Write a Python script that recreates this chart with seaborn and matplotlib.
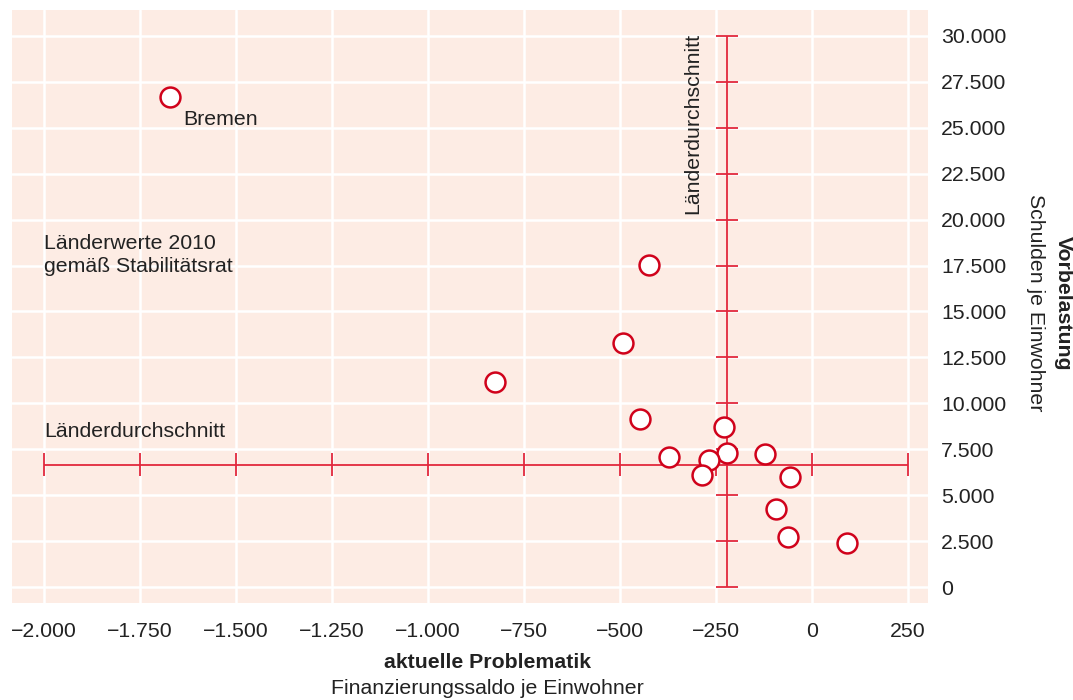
import matplotlib
matplotlib.use("Agg")
import matplotlib.pyplot as plt
import matplotlib.ticker as mticker
import numpy as np
import pandas as pd
import seaborn as sns

# Finanzierungssaldo je Einwohner (x) und Schulden je Einwohner (y), 2010
saldo = [-1672, -424, -492, -826, -448, -229, -372, -221, -122, -268, -286, -57, -94, -62, 91]
schulden = [26680, 17530, 13280, 11160, 9150, 8710, 7080, 7300, 7240, 6910, 6100, 5990, 4250, 2720, 2400]
avg_x = -221
avg_y = 6650
x_ticks = [-2000, -1750, -1500, -1250, -1000, -750, -500, -250, 0, 250]
y_ticks = [0, 2500, 5000, 7500, 10000, 12500, 15000, 17500, 20000, 22500, 25000, 27500, 30000]

bg = "#fdece4"
red = "#d0021b"
line_red = "#e2283c"
txt = "#222222"

sns.set_theme(style="darkgrid", rc={"axes.facecolor": bg, "grid.color": "white",
                                    "grid.linewidth": 1.8})
plt.rcParams["font.family"] = ["Liberation Sans", "DejaVu Sans"]
fs = 15.3

df = pd.DataFrame({"saldo": saldo, "schulden": schulden})

fig = plt.figure(figsize=(10.73, 7.0), dpi=100)
ax = fig.add_axes([12 / 1073, 1 - 603 / 700, (928 - 12) / 1073, (603 - 10) / 700])

# crosshair for Länderdurchschnitt
ax.hlines(avg_y, x_ticks[0], x_ticks[-1], color=line_red, lw=1.3, zorder=2)
ax.vlines(avg_x, y_ticks[0], y_ticks[-1], color=line_red, lw=1.3, zorder=2)
ax.vlines(x_ticks, avg_y - 620, avg_y + 620, color=line_red, lw=1.3, zorder=2)
ax.hlines(y_ticks, avg_x - 29, avg_x + 29, color=line_red, lw=1.3, zorder=2)

sns.scatterplot(data=df, x="saldo", y="schulden", ax=ax, s=205, color="white",
                edgecolor=red, linewidth=1.8, zorder=3, legend=False)

ax.set_xlim(-2083, 302)
ax.set_ylim(-871, 31415)
ax.set_xticks(x_ticks)
ax.set_yticks(y_ticks)


def de_fmt(v, pos):
    s = f"{abs(v):,.0f}".replace(",", ".")
    return ("\u2212" + s) if v < 0 else s


ax.xaxis.set_major_formatter(mticker.FuncFormatter(de_fmt))
ax.yaxis.set_major_formatter(mticker.FuncFormatter(de_fmt))
ax.yaxis.tick_right()
ax.tick_params(axis="x", length=0, pad=13.5, labelsize=fs, labelcolor=txt)
ax.tick_params(axis="y", length=0, pad=9.5, labelsize=fs, labelcolor=txt)
ax.set_xlabel("")
ax.set_ylabel("")
for sp in ax.spines.values():
    sp.set_visible(False)

# annotations
ax.annotate("Bremen", (saldo[0], schulden[0]), xytext=(9.5, -16), textcoords="offset points",
            ha="left", va="center", fontsize=fs, color=txt)
ax.text(-2000, 18080, "Länderwerte 2010\ngemäß Stabilitätsrat", ha="left", va="center",
        fontsize=fs, color=txt, linespacing=1.22)
ax.text(-2000, 8440, "Länderdurchschnitt", ha="left", va="center", fontsize=fs, color=txt)
ax.text(-310, 30150, "Länderdurchschnitt", rotation=90, ha="center", va="top",
        fontsize=fs, color=txt)

# axis titles
fig.text(487 / 1073, 1 - 662 / 700, "aktuelle Problematik", ha="center", va="center",
         fontsize=fs, fontweight="bold", color=txt)
fig.text(487 / 1073, 1 - 688 / 700, "Finanzierungssaldo je Einwohner", ha="center",
         va="center", fontsize=fs, color=txt)
fig.text(1063 / 1073, 1 - 303 / 700, "Vorbelastung", rotation=270, ha="center", va="center",
         fontsize=fs, fontweight="bold", color=txt)
fig.text(1035 / 1073, 1 - 303 / 700, "Schulden je Einwohner", rotation=270, ha="center",
         va="center", fontsize=fs, color=txt)

fig.savefig("out.png", dpi=100, facecolor="white")
